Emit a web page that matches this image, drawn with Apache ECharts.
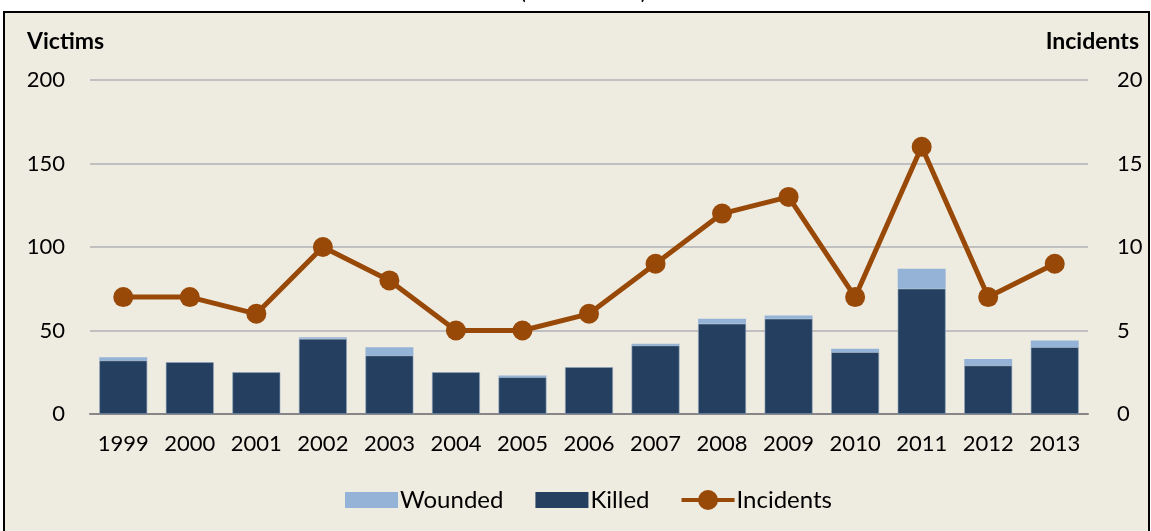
<!DOCTYPE html>
<html><head><meta charset="utf-8">
<script src="https://cdn.jsdelivr.net/npm/echarts@6/dist/echarts.min.js"></script>
<style>
html,body{margin:0;padding:0;background:#fff;width:1151px;height:531px;overflow:hidden;}
#frame{position:absolute;left:3px;top:11px;width:1143px;height:540px;border:2px solid #000;background:#EEEBE0;}
#chart{position:absolute;left:0;top:0;width:1151px;height:531px;}
</style></head>
<body>
<div id="frame"></div>
<div id="chart"></div>
<script>
const years = ['1999','2000','2001','2002','2003','2004','2005','2006','2007','2008','2009','2010','2011','2012','2013'];
const killed = [32,31,25,45,35,25,22,28,41,54,57,37,75,29,40];
const wounded = [2,0,0,1,5,0,1,0,1,3,2,2,12,4,4];
const incidents = [7,7,6,10,8,5,5,6,9,12,13,7,16,7,9];
const leftTicks = [0,50,100,150,200];
const rightTicks = [0,5,10,15,20];

const FONT = 'Lato, "Open Sans", sans-serif';
const RECT_ICON = 'path://M0,0L0,0Z M0,2L53,2L53,18L0,18Z M0,20L0,20Z';
const LINE_ICON = 'path://M0,8L17,8L17,12L0,12Z M36,8L53,8L53,12L36,12Z M16.5,10A10,10 0 1,1 36.5,10A10,10 0 1,1 16.5,10Z';
const chart = echarts.init(document.getElementById('chart'), null, {renderer:'canvas'});
chart.setOption({
  backgroundColor: 'transparent',
  animation: false,
  grid: {left: 90, right: 63, top: 80, bottom: 117},
  legend: {
    left: 340, top: 483,
    itemWidth: 53, itemHeight: 20, itemGap: 32,
    textStyle: {fontFamily: FONT, fontSize: 24, color: '#000', padding: [0,0,0,-3]},
    data: [
      {name:'Wounded', icon: RECT_ICON, itemStyle:{borderWidth:0}},
      {name:'Killed', icon: RECT_ICON, itemStyle:{borderWidth:0}},
      {name:'Incidents', icon: LINE_ICON, itemStyle:{color:'#984807', borderWidth:0}}
    ]
  },
  graphic: [
    {type:'text', left: 27, top: 30, style:{text:'Victims', font:'bold 23px '+FONT, fill:'#000'}},
    {type:'text', right: 12, top: 30, style:{text:'Incidents', font:'bold 23px '+FONT, fill:'#000'}},
    {type:'text', left: 520, top: -19, style:{text:'(1999–2013)', font:'22px '+FONT, fill:'#000'}}
  ],
  xAxis: {
    type: 'category', data: years,
    axisLine: {lineStyle: {color: '#868686', width: 2}},
    axisTick: {show: false},
    axisLabel: {fontFamily: FONT, fontSize: 22, color: '#000', margin: 19}
  },
  yAxis: [
    {type:'value', min: leftTicks[0], max: leftTicks[leftTicks.length-1], interval: 50,
     axisLine:{show:false}, axisTick:{show:false},
     splitLine:{lineStyle:{color:'#C0C0C0', width: 2}},
     axisLabel:{fontFamily: FONT, fontSize: 22, color:'#000', margin: 25}},
    {type:'value', min: rightTicks[0], max: rightTicks[rightTicks.length-1], interval: 5,
     axisLine:{show:false}, axisTick:{show:false}, splitLine:{show:false},
     axisLabel:{fontFamily: FONT, fontSize: 22, color:'#000', margin: 29}}
  ],
  series: [
    {name:'Killed', type:'bar', stack:'v', data: killed, barCategoryGap: '28%',
     itemStyle:{color:'#253F60', borderColor:'#8EA4BE', borderWidth: 0.6}},
    {name:'Wounded', type:'bar', stack:'v', data: wounded,
     itemStyle:{color:'#95B3D7'}},
    {name:'Incidents', type:'line', yAxisIndex: 1, data: incidents,
     symbol:'circle', symbolSize: 20,
     lineStyle:{color:'#984807', width: 5}, itemStyle:{color:'#984807'}}
  ]
});
</script>
</body></html>
